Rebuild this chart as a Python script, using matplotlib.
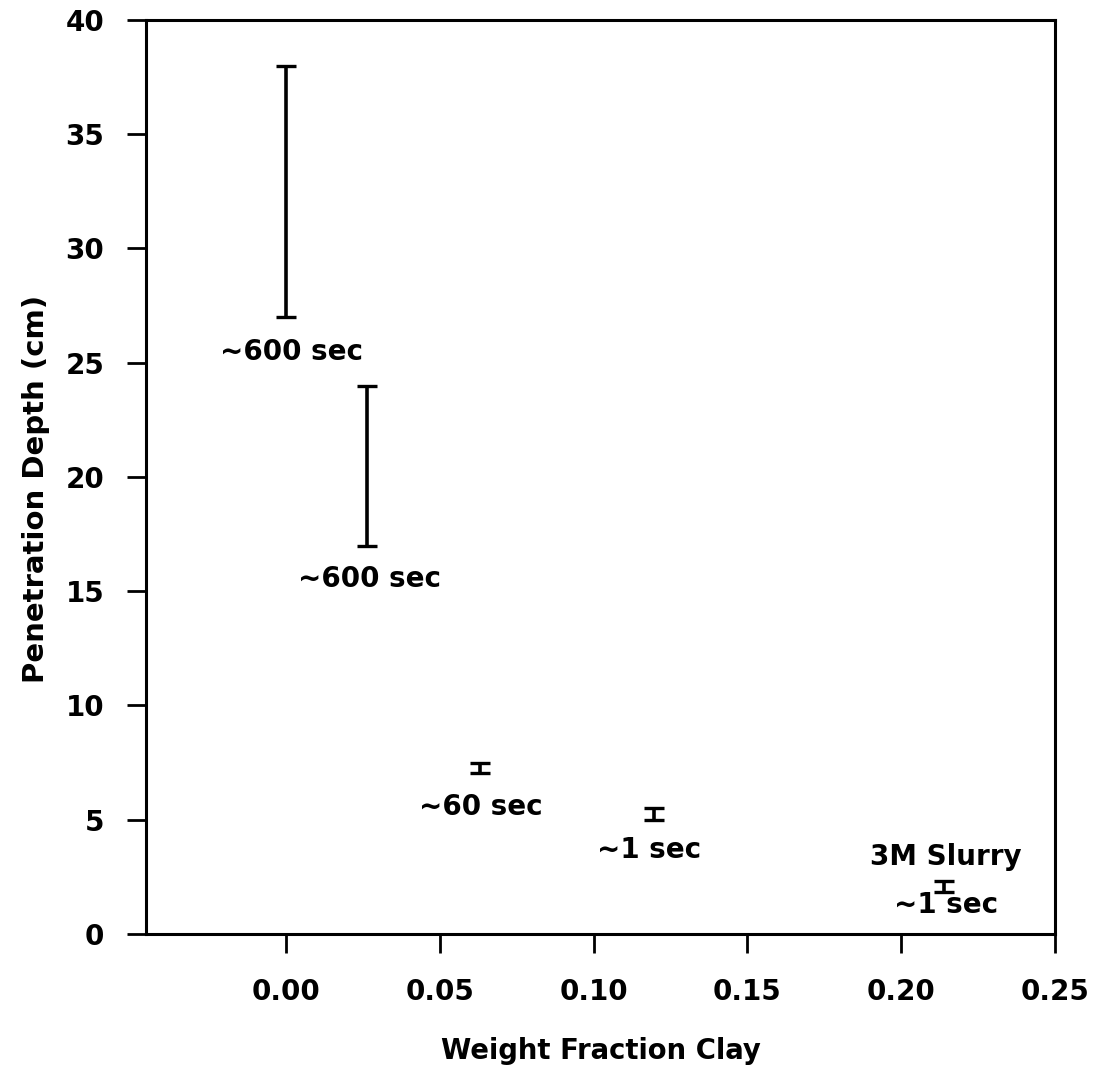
import matplotlib
matplotlib.use("Agg")
import matplotlib.pyplot as plt

# Data
clay_fraction = [0.0, 0.0263, 0.063, 0.1195, 0.214]
depth_low = [27.0, 17.0, 7.05, 5.0, 1.85]
depth_high = [38.0, 24.0, 7.5, 5.5, 2.3]

label_texts = ["~600 sec", "~600 sec", "~60 sec", "~1 sec", "3M Slurry", "~1 sec"]
label_x = [0.0018, 0.0273, 0.0632, 0.118, 0.2145, 0.2145]
label_y = [25.12, 15.19, 5.21, 3.33, 3.02, 0.92]

xticks = [0.00, 0.05, 0.10, 0.15, 0.20, 0.25]
xtick_labels = ["0.00", "0.05", "0.10", "0.15", "0.20", "0.25"]
yticks = [0, 5, 10, 15, 20, 25, 30, 35, 40]

plt.rcParams['font.family'] = ['DejaVu Sans']
plt.rcParams['font.weight'] = 'bold'

fig = plt.figure(figsize=(10.96, 10.75), dpi=100)
ax = fig.add_axes([0.1332, 0.1312, 0.8294, 0.8502])

mid = [(a + b) / 2 for a, b in zip(depth_low, depth_high)]
err = [(b - a) / 2 for a, b in zip(depth_low, depth_high)]
ax.errorbar(clay_fraction, mid, yerr=err, fmt='none', ecolor='black',
            elinewidth=2.6, capsize=7, capthick=2.4)

for t, x, y in zip(label_texts, label_x, label_y):
    ax.text(x, y, t, ha='center', va='baseline', fontsize=20, fontweight='bold')

ax.set_xlim(-0.0455, 0.25)
ax.set_ylim(0, 40)
ax.set_xticks(xticks)
ax.set_xticklabels(xtick_labels)
ax.set_yticks(yticks)
ax.tick_params(axis='both', direction='out', length=14, width=2, labelsize=20, pad=16)
ax.tick_params(axis='x', pad=18)
for s in ax.spines.values():
    s.set_linewidth(2.2)

ax.set_xlabel("Weight Fraction Clay", fontsize=19.8, fontweight='bold', labelpad=22)
ax.set_ylabel("Penetration Depth (cm)", fontsize=21, fontweight='bold')
ax.yaxis.set_label_coords(-0.1056, 0.487)

fig.savefig("out.png", dpi=100)
